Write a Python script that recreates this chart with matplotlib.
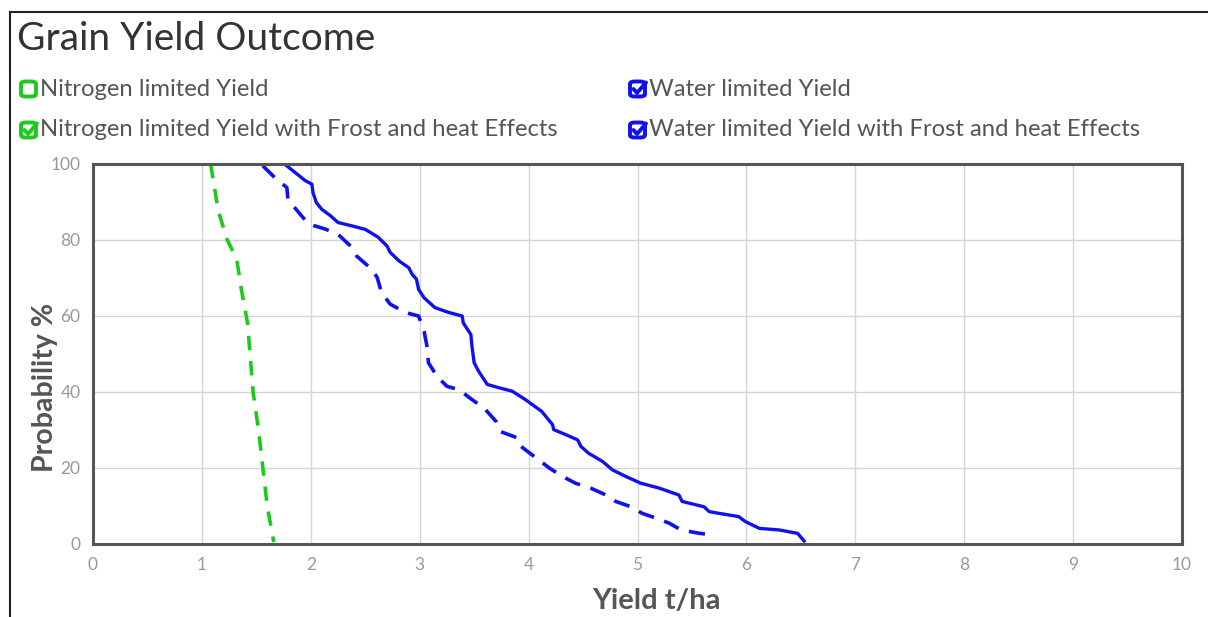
import matplotlib
matplotlib.use("Agg")
import matplotlib.pyplot as plt
from matplotlib.patches import FancyBboxPatch
from matplotlib.lines import Line2D

# ---- data ----
n_frost_yield = [1.08, 1.15, 1.23, 1.32, 1.36, 1.42, 1.47, 1.52, 1.56, 1.60, 1.66]
n_frost_prob  = [100, 87.7, 80.2, 74.9, 67.4, 58.0, 40.0, 30.0, 20.0, 10.0, 0.5]

w_frost_yield = [1.56, 1.67, 1.78, 1.79, 1.89, 1.98, 2.13, 2.25, 2.38, 2.42, 2.56, 2.61, 2.65,
                 2.73, 2.87, 2.99, 3.04, 3.07, 3.08, 3.16, 3.25, 3.36, 3.48, 3.59, 3.70, 3.74,
                 3.90, 3.93, 3.97, 4.09, 4.19, 4.31, 4.43, 4.57, 4.71, 4.80, 4.94, 5.04, 5.17,
                 5.29, 5.40, 5.57, 5.70]
w_frost_prob  = [99.5, 96.4, 93.8, 90.7, 87.2, 84.2, 82.9, 81.5, 78.0, 75.8, 72.3, 70.1, 66.1,
                 63.1, 60.9, 60.0, 56.0, 51.6, 47.7, 44.1, 41.5, 40.6, 38.0, 35.8, 32.3, 29.6,
                 27.9, 25.7, 24.8, 22.2, 20.0, 17.8, 16.0, 14.7, 12.9, 11.2, 9.8, 8.1, 6.8,
                 5.5, 3.7, 2.8, 2.4]

w_yield = [1.78, 1.95, 2.01, 2.02, 2.05, 2.10, 2.18, 2.25, 2.38, 2.50, 2.62, 2.70, 2.73, 2.81,
           2.90, 2.93, 2.97, 2.99, 3.04, 3.14, 3.27, 3.39, 3.40, 3.47, 3.48, 3.50, 3.54, 3.62,
           3.73, 3.85, 3.97, 4.12, 4.22, 4.23, 4.34, 4.45, 4.48, 4.55, 4.68, 4.77, 4.89, 5.03,
           5.20, 5.38, 5.41, 5.61, 5.66, 5.93, 5.99, 6.12, 6.30, 6.47, 6.53]
w_prob  = [99.5, 95.6, 94.7, 92.5, 89.9, 88.1, 86.4, 84.6, 83.7, 82.8, 80.7, 78.4, 76.7, 74.5,
           72.7, 71.0, 69.7, 67.0, 64.8, 62.2, 60.9, 60.0, 58.2, 55.1, 52.0, 47.7, 45.5, 42.0,
           41.1, 40.2, 38.0, 34.9, 31.4, 30.1, 28.8, 27.4, 25.7, 23.9, 21.7, 19.5, 17.8, 16.0,
           14.7, 12.9, 11.2, 9.8, 8.5, 7.2, 5.9, 4.1, 3.7, 2.8, 0.8]

legend_labels = ["Nitrogen limited Yield",
                 "Nitrogen limited Yield with Frost and heat Effects",
                 "Water limited Yield",
                 "Water limited Yield with Frost and heat Effects"]
legend_checked = [False, True, True, True]
x_ticks = list(range(0, 11))
y_ticks = [0, 20, 40, 60, 80, 100]

GREEN = "#1ec91e"
BLUE = "#1010f0"
FONT = ["Lato", "DejaVu Sans"]

W, H = 1208, 617
fig = plt.figure(figsize=(W / 100, H / 100), dpi=100)
fig.patch.set_facecolor("white")

def fx(px):
    return px / W

def fy(py):
    return 1 - py / H

# figure frame (left and top lines)
fig.add_artist(Line2D([fx(9.5), fx(9.5)], [0, fy(12)], color="#222", lw=1.5, transform=fig.transFigure))
fig.add_artist(Line2D([fx(9.5), 1], [fy(12), fy(12)], color="#222", lw=1.5, transform=fig.transFigure))

# title
fig.text(fx(17), fy(39), "Grain Yield Outcome", fontsize=28, color="#333", family=FONT,
         va="center", ha="left")

# legend
leg_pos = [(20, 89), (20, 130), (629, 89), (629, 130)]
leg_col = [GREEN, GREEN, BLUE, BLUE]
for (px, py), lab, chk, col in zip(leg_pos, legend_labels, legend_checked, leg_col):
    s = 15
    box = FancyBboxPatch((fx(px + 1), fy(py + s / 2)), s / W, s / H,
                         boxstyle="round,pad=0,rounding_size=0.004",
                         transform=fig.transFigure, fill=False, ec=col, lw=2.8)
    fig.add_artist(box)
    if chk:
        fig.add_artist(Line2D([fx(px + 4.5), fx(px + 8), fx(px + 17)],
                              [fy(py), fy(py + 4), fy(py - 6.5)],
                              color=col, lw=2.8, transform=fig.transFigure,
                              solid_capstyle="round", solid_joinstyle="round"))
    fig.text(fx(px + 20), fy(py), lab, fontsize=17.2, color="#555", family=FONT,
             va="center", ha="left")

# axes
ax = fig.add_axes([fx(93), fy(544), fx(1182) - fx(93), fy(164) - fy(544)])
ax.set_xlim(0, 10)
ax.set_ylim(0, 100)
ax.set_xticks(x_ticks)
ax.set_yticks(y_ticks)
ax.grid(True, color="#d4d4d4", lw=1)
ax.set_axisbelow(True)
for sp in ax.spines.values():
    sp.set_color("#555")
    sp.set_linewidth(2.2)
ax.tick_params(length=0, labelsize=12.5, labelcolor="#999", pad=9)
for t in ax.get_xticklabels() + ax.get_yticklabels():
    t.set_family(FONT)

ax.plot(n_frost_yield, n_frost_prob, color=GREEN, lw=2.6, ls=(0, (4, 3)), dash_capstyle="butt")
ax.plot(w_frost_yield, w_frost_prob, color=BLUE, lw=2.6, ls=(0, (4.5, 3)), dash_capstyle="butt")
ax.plot(w_yield, w_prob, color=BLUE, lw=2.4, solid_joinstyle="round")

ax.set_xlabel("Yield t/ha", fontsize=21, fontweight="bold", color="#555", family=FONT)
ax.set_ylabel("Probability %", fontsize=20.5, fontweight="bold", color="#555", family=FONT)
ax.xaxis.set_label_coords((656 - 93) / 1089, (544 - 601) / 380)
ax.yaxis.set_label_coords((45 - 93) / 1089, (544 - 387) / 380)
ax.xaxis.label.set_va("center")
ax.yaxis.label.set_va("center")

fig.savefig("out.png", dpi=100, facecolor="white")
